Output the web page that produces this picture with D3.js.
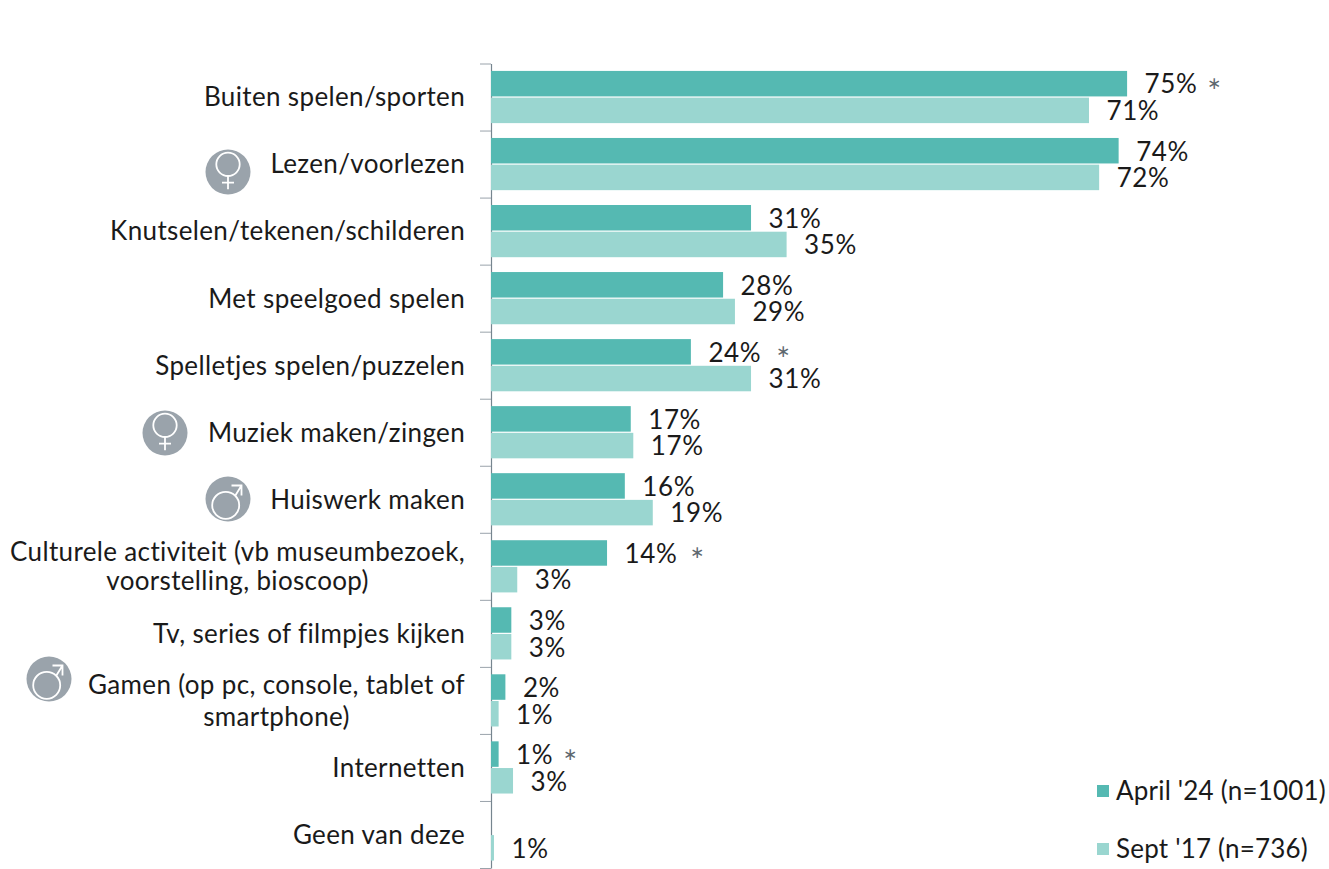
<!DOCTYPE html>
<html>
<head>
<meta charset="utf-8">
<script src="https://cdn.jsdelivr.net/npm/d3@7"></script>
<style>
  html, body { margin: 0; padding: 0; background: #fff; }
  svg { display: block; }
  text { font-family: Lato, sans-serif; fill: #1a1a1a; letter-spacing: 0.35px; }
</style>
</head>
<body>
<svg width="1329" height="869"></svg>
<script>
const categories = [
  ['Buiten spelen/sporten'],
  ['Lezen/voorlezen'],
  ['Knutselen/tekenen/schilderen'],
  ['Met speelgoed spelen'],
  ['Spelletjes spelen/puzzelen'],
  ['Muziek maken/zingen'],
  ['Huiswerk maken'],
  ['Culturele activiteit (vb museumbezoek,', 'voorstelling, bioscoop)'],
  ['Tv, series of filmpjes kijken'],
  ['Gamen (op pc, console, tablet of', 'smartphone)'],
  ['Internetten'],
  ['Geen van deze']
];
const seriesNames = ["April '24 (n=1001)", "Sept '17 (n=736)"];
// bar lengths, labels are what the chart prints
const april24 = [75.1, 74.1, 30.7, 27.4, 23.6, 16.5, 15.8, 13.7, 2.4, 1.7, 0.9, null];
const sept17 = [70.6, 71.8, 34.9, 28.8, 30.7, 16.8, 19.1, 3.1, 2.4, 0.9, 2.6, 0.35];
const april24Labels = ['75%', '74%', '31%', '28%', '24%', '17%', '16%', '14%', '3%', '2%', '1%', null];
const sept17Labels = ['71%', '72%', '35%', '29%', '31%', '17%', '19%', '3%', '3%', '1%', '3%', '1%'];
const significant = [0, 4, 7, 10]; // categories with a * after the April '24 label

const colors = ['#55b9b2', '#9ad6d0'];
const axisX = 491;
const fontSize = 26;
const starGap = { 0: 17, 4: 22, 7: 20, 10: 17 };
const femaleBadges = [[228, 172], [165, 433]];
const maleBadges = [[228, 499], [49, 679]];

const svg = d3.select('svg');

const x = d3.scaleLinear().domain([0, 100]).range([axisX, axisX + 847]);
const yIndex = d3.scaleBand().domain(d3.range(categories.length)).range([63.5, 868]);
const ySeries = d3.scaleBand().domain([0, 1]).range([0, yIndex.bandwidth()])
  .paddingInner(0.045).paddingOuter(0.278);
const tickScale = d3.scaleLinear().domain([0, categories.length]).range([63.5, 868]);

// axis with ticks between the groups
const axis = svg.append('g')
  .attr('transform', `translate(${axisX},0)`)
  .call(d3.axisLeft(tickScale)
    .tickValues(d3.range(categories.length + 1))
    .tickFormat('')
    .tickSize(11)
    .tickSizeOuter(0));
axis.selectAll('line').attr('stroke', '#9aa3ab');
axis.select('.domain').attr('stroke', '#76858f').attr('stroke-width', 1.2);

[april24, sept17].forEach((values, s) => {
  const labels = s === 0 ? april24Labels : sept17Labels;
  const group = svg.append('g');
  values.forEach((v, i) => {
    if (v === null) return;
    const top = yIndex(i) + ySeries(s);
    group.append('rect')
      .attr('x', axisX)
      .attr('y', top)
      .attr('width', x(v) - axisX)
      .attr('height', ySeries.bandwidth())
      .attr('fill', colors[s]);
    const label = group.append('text')
      .attr('x', x(v) + 17.5)
      .attr('y', top + ySeries.bandwidth() / 2 + 0.7)
      .attr('dy', '0.35em')
      .attr('font-size', fontSize)
      .style('letter-spacing', '0.6px')
      .text(labels[i]);
    if (s === 0 && significant.includes(i)) {
      const end = label.node().getBBox();
      svg.append('text')
        .attr('x', end.x + end.width + starGap[i])
        .attr('y', top + ySeries.bandwidth() / 2 - 0.5)
        .attr('dy', '0.35em')
        .attr('text-anchor', 'middle')
        .attr('font-size', 17)
        .style('font-family', 'DejaVu Sans')
        .style('fill', '#5d6870')
        .text('\u2217');
    }
  });
});

// category labels, lines centred on each other and the block right aligned
const lineGap = { 7: 29, 9: 32 };
categories.forEach((lines, i) => {
  const cy = yIndex(i) + yIndex.bandwidth() / 2;
  const gap = lineGap[i] || 0;
  const first = svg.append('text')
    .attr('x', 465)
    .attr('y', cy - 0.3 - gap * (lines.length - 1) / 2 + (i > 2 ? 0.8 : 0))
    .attr('dy', '0.35em')
    .attr('text-anchor', 'end')
    .attr('font-size', fontSize)
    .text(lines[0]);
  if (lines.length > 1) {
    const w = first.node().getComputedTextLength();
    svg.append('text')
      .attr('x', 465 - w / 2)
      .attr('y', cy + 0.5 + gap / 2)
      .attr('dy', '0.35em')
      .attr('text-anchor', 'middle')
      .attr('font-size', fontSize)
      .text(lines[1]);
  }
});

// gender badges
function badge(cx, cy) {
  const g = svg.append('g').attr('transform', `translate(${cx},${cy})`);
  g.append('circle').attr('r', 22.5).attr('fill', '#9aa3ab');
  return g.append('g').attr('fill', 'none').attr('stroke', '#fff').attr('stroke-width', 1.8);
}
femaleBadges.forEach(([cx, cy]) => {
  const g = badge(cx, cy);
  g.append('circle').attr('cy', -7.7).attr('r', 11.7);
  g.append('path').attr('d', 'M0,4V17.3M-6,10.7H6');
});
maleBadges.forEach(([cx, cy]) => {
  const g = badge(cx, cy);
  g.append('circle').attr('cx', -2.3).attr('cy', 6.3).attr('r', 13.5);
  g.append('path').attr('d', 'M7.2,-3.2L13.5,-13.5M3.5,-13.5H13.5V-3.5');
});

// legend
const legendY = [791, 849];
seriesNames.forEach((name, s) => {
  svg.append('rect')
    .attr('x', 1097)
    .attr('y', legendY[s] - 6)
    .attr('width', 12)
    .attr('height', 12)
    .attr('fill', colors[s]);
  svg.append('text')
    .attr('x', 1116)
    .attr('y', legendY[s])
    .attr('dy', '0.35em')
    .attr('font-size', fontSize)
    .style('letter-spacing', '0.2px')
    .text(name);
});
</script>
</body>
</html>
